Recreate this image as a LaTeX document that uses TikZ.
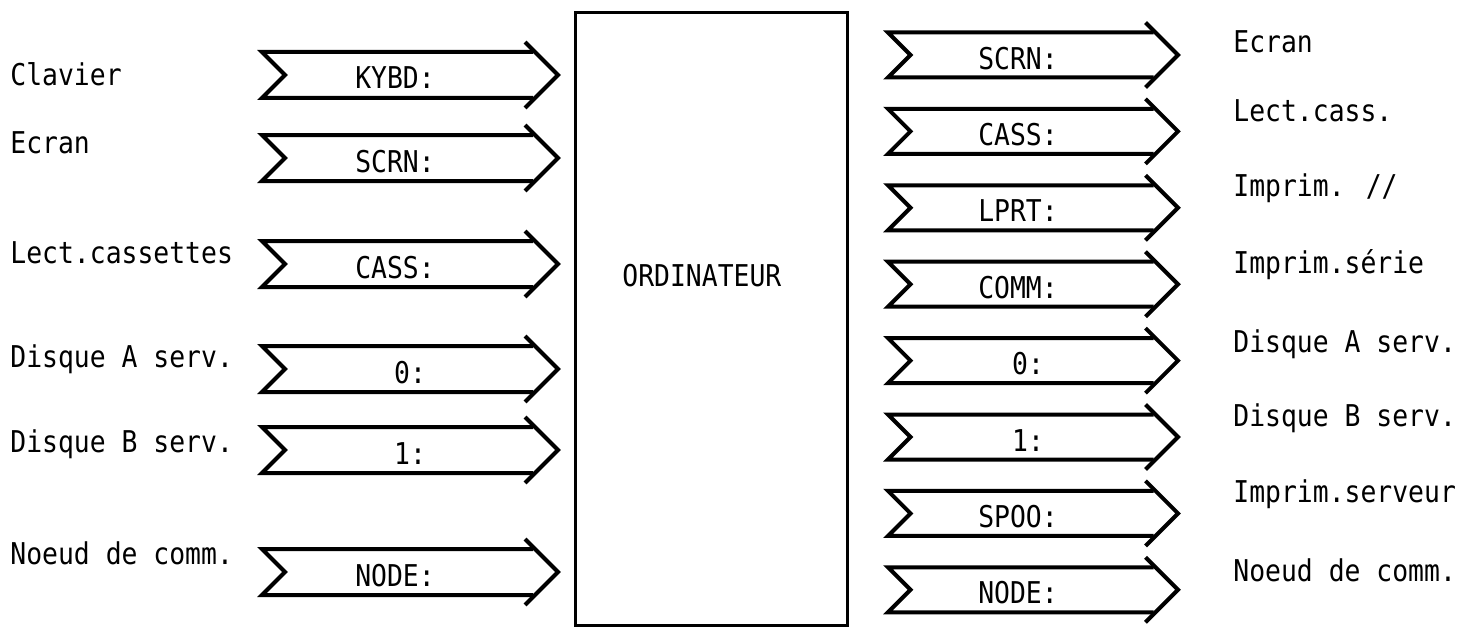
\documentclass[tikz,border=0pt]{standalone}
\usepackage{fontspec}
\newfontfamily\typewr{DejaVu Sans Mono}[FakeStretch=0.88]
\usepackage{tikz}
\tikzset{
  parrow/.style={line width=2pt,line join=miter},
  ptxt/.style={font=\typewr\fontsize{15}{18}\selectfont,inner sep=0pt,anchor=base},
  cpubox/.style={draw,line width=1.5pt,minimum width=136pt,minimum height=306pt,inner sep=0pt}
}
% left x, tip x, centre y, half height, name of the tip
\newcommand{\portarrow}[5]{%
  \draw[parrow] ({#2-#4-2},{#3-#4}) -- (#1,{#3-#4}) -- ({#1+#4},#3) -- (#1,{#3+#4}) -- ({#2-#4-2},{#3+#4});
  \draw[parrow] ({#2-#4-10},{#3-#4-10}) -- (#2,#3) coordinate (#5) -- ({#2-#4-10},{#3+#4+10});}

\begin{document}
\begin{tikzpicture}[x=0.5pt,y=-0.5pt]
\useasboundingbox (0,0) rectangle (1476,626);
\node[cpubox] (cpu) at (711,319) {};
\node[ptxt,anchor=base west] (cpulab) at (622,286) {ORDINATEUR};
% inputs
\foreach \nm/\dev/\ly/\ay/\port/\px in {kybd/Clavier/86/75/KYBD:/395,
    scrn/Ecran/153/158/SCRN:/395, cass/Lect.cassettes/263/264/CASS:/395,
    dska/Disque A serv./367/369/0:/410, dskb/Disque B serv./452/450/1:/410,
    node/Noeud de comm./564/572/NODE:/395}{
  \node[ptxt,anchor=base west] (in\nm) at (10,\ly) {\dev};
  \portarrow{262}{558}{\ay}{23}{intip\nm}
  \node[ptxt] (inport\nm) at ({\px},{\ay+14}) {\port};
}
% outputs
\foreach \nm/\dev/\ly/\port/\px [count=\i from 0] in {scrn/Ecran/53/SCRN:/1018,
    cass/Lect.cass./121/CASS:/1018, lprt/{Imprim. //}/196/LPRT:/1018,
    comm/Imprim.série/273/COMM:/1018, dska/Disque A serv./352/0:/1028,
    dskb/Disque B serv./426/1:/1028, spoo/Imprim.serveur/502/SPOO:/1018,
    node/Noeud de comm./581/NODE:/1018}{
  \pgfmathsetmacro{\ay}{55+76.4*\i}
  \portarrow{888}{1178}{\ay}{22.5}{outtip\nm}
  \node[ptxt] (outport\nm) at ({\px},{\ay+14}) {\port};
  \node[ptxt,anchor=base west] (out\nm) at (1233,\ly) {\dev};
}
\end{tikzpicture}
\end{document}
